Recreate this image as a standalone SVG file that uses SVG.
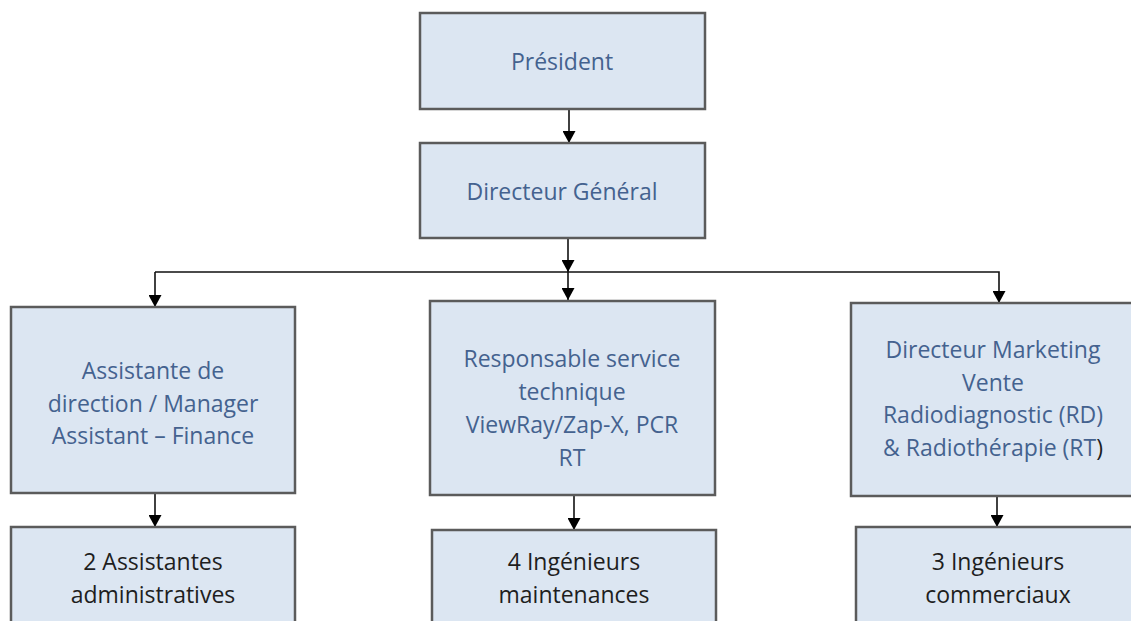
<svg xmlns="http://www.w3.org/2000/svg" width="1131" height="621" viewBox="0 0 1131 621">
<defs>
<marker id="ah" markerWidth="12" markerHeight="13" refX="12" refY="6.5" orient="auto" markerUnits="userSpaceOnUse" viewBox="0 0 12 13">
<path d="M0,0 L12,6.5 L0,13 Z" fill="#000"/>
</marker>
</defs>
<style>
.box{fill:#dce6f2;stroke:#5b5b5b;stroke-width:2.5}
.t{font-family:"Open Sans","Liberation Sans",sans-serif;font-size:23px;text-anchor:middle;fill:#44628f}
.k{fill:#1e1e1e}
.c{stroke:#111;stroke-width:1.6;fill:none}
</style>
<rect width="1131" height="621" fill="#fff"/>
<g id="connectors">
<line class="c" x1="569" y1="109" x2="569" y2="143" marker-end="url(#ah)"/>
<line class="c" x1="568" y1="238" x2="568" y2="272" marker-end="url(#ah)"/>
<line class="c" x1="568" y1="272" x2="568" y2="300" marker-end="url(#ah)"/>
<polyline class="c" points="155,272 999,272 999,303" marker-end="url(#ah)"/>
<line class="c" x1="155" y1="272" x2="155" y2="307" marker-end="url(#ah)"/>
<line class="c" x1="155" y1="493" x2="155" y2="527" marker-end="url(#ah)"/>
<line class="c" x1="574" y1="495" x2="574" y2="530" marker-end="url(#ah)"/>
<line class="c" x1="997" y1="496" x2="997" y2="527" marker-end="url(#ah)"/>
</g>
<g id="president">
<rect class="box" x="420" y="13" width="285" height="96"/>
<text class="t" x="562" y="70">Président</text>
</g>
<g id="directeur-general">
<rect class="box" x="420" y="143" width="285" height="95"/>
<text class="t" x="562" y="200">Directeur Général</text>
</g>
<g id="assistante">
<rect class="box" x="11" y="307" width="284" height="186"/>
<text class="t" x="153" y="379">Assistante de</text>
<text class="t" x="153" y="412">direction / Manager</text>
<text class="t" x="153" y="444">Assistant – Finance</text>
</g>
<g id="responsable">
<rect class="box" x="430" y="301" width="285" height="194"/>
<text class="t" x="572" y="367">Responsable service</text>
<text class="t" x="572" y="400">technique</text>
<text class="t" x="572" y="433">ViewRay/Zap-X, PCR</text>
<text class="t" x="572" y="466">RT</text>
</g>
<g id="marketing">
<rect class="box" x="851" y="303" width="290" height="193"/>
<text class="t" x="993" y="358">Directeur Marketing</text>
<text class="t" x="993" y="391">Vente</text>
<text class="t" x="993" y="423">Radiodiagnostic (RD)</text>
<text class="t" x="993" y="456">&amp; Radiothérapie (RT<tspan class="k">)</tspan></text>
</g>
<g id="assistantes-admin">
<rect class="box" x="11" y="527" width="284" height="110"/>
<text class="t k" x="153" y="570">2 Assistantes</text>
<text class="t k" x="153" y="603">administratives</text>
</g>
<g id="ingenieurs-maintenance">
<rect class="box" x="432" y="530" width="284" height="110"/>
<text class="t k" x="574" y="570">4 Ingénieurs</text>
<text class="t k" x="574" y="603">maintenances</text>
</g>
<g id="ingenieurs-commerciaux">
<rect class="box" x="856" y="527" width="290" height="110"/>
<text class="t k" x="998" y="570">3 Ingénieurs</text>
<text class="t k" x="998" y="603">commerciaux</text>
</g>
</svg>
